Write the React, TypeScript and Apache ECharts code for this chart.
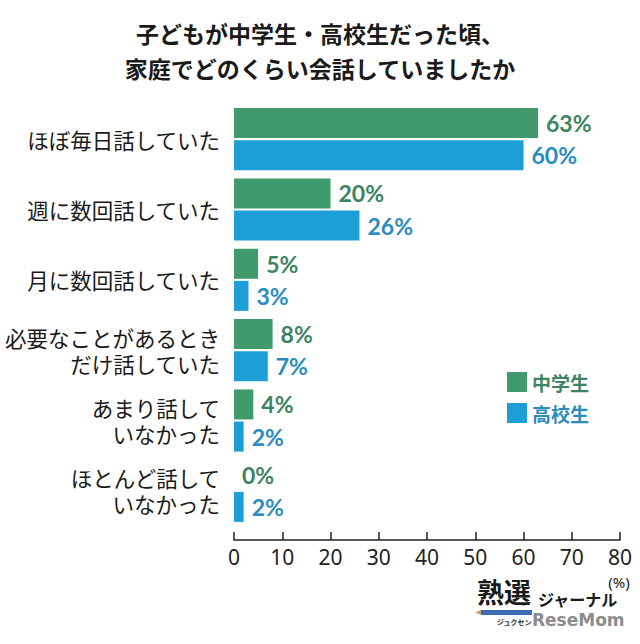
import React, { useEffect, useRef } from "react";
import * as echarts from "echarts";

const categories = [
  "ほぼ毎日話していた",
  "週に数回話していた",
  "月に数回話していた",
  "必要なことがあるとき\nだけ話していた",
  "あまり話して\nいなかった",
  "ほとんど話して\nいなかった",
];
const juniorHigh = [63, 20, 5, 8, 4, 0];
const highSchool = [60, 26, 3, 7, 2, 2];
const seriesNames = ["中学生", "高校生"];
const xTicks = { min: 0, max: 80, interval: 10 };

const GREEN = "#3f9b6b";
const BLUE = "#1e9ed6";
const GREEN_TXT = "#3c8462";
const BLUE_TXT = "#2b8cc0";
const JP = '"Noto Sans CJK JP", "Noto Sans", sans-serif';

export default function App() {
  const ref = useRef<HTMLDivElement>(null);
  useEffect(() => {
    document.body.style.margin = "0";
    const chart = echarts.init(ref.current!, null, { renderer: "svg" });
    const valueLabel = (color: string) => ({
      show: true,
      position: "right",
      distance: 8,
      formatter: "{c}%",
      color,
      fontFamily: "Lato, sans-serif",
      fontWeight: "bold",
      fontSize: 23,
    });
    chart.setOption({
      animation: false,
      backgroundColor: "#ffffff",
      title: {
        text: "子どもが中学生・高校生だった頃、\n家庭でどのくらい会話していましたか",
        left: "center",
        top: 15,
        padding: 0,
        textStyle: {
          fontFamily: JP,
          fontSize: 23,
          fontWeight: "bold",
          color: "#1a1a1a",
          lineHeight: 35,
        },
      },
      legend: {
        orient: "vertical",
        left: 502,
        top: 367,
        itemWidth: 20,
        itemHeight: 20,
        itemGap: 11,
        icon: "rect",
        data: [
          { name: seriesNames[0], textStyle: { color: GREEN_TXT } },
          { name: seriesNames[1], textStyle: { color: BLUE_TXT } },
        ],
        textStyle: { fontFamily: JP, fontSize: 19, fontWeight: "bold" },
      },
      grid: { left: 234, right: 20, top: 104, bottom: 118, containLabel: false },
      xAxis: {
        type: "value",
        min: xTicks.min,
        max: xTicks.max,
        interval: xTicks.interval,
        offset: 14,
        axisLine: { show: true, lineStyle: { color: "#222", width: 1.5 } },
        axisTick: { show: true, inside: true, length: 8, lineStyle: { color: "#222", width: 1.5 } },
        splitLine: { show: false },
        axisLabel: { fontFamily: '"Noto Sans", sans-serif', fontSize: 21, color: "#222", margin: 6 },
      },
      yAxis: {
        type: "category",
        inverse: true,
        data: categories,
        axisLine: { show: false },
        axisTick: { show: false },
        axisLabel: {
          fontFamily: JP,
          fontSize: 21.5,
          color: "#1a1a1a",
          margin: 14,
          lineHeight: 26,
          align: "right",
        },
      },
      series: [
        {
          name: seriesNames[0],
          type: "bar",
          data: juniorHigh,
          barWidth: 30,
          barGap: "7%",
          itemStyle: { color: GREEN },
          label: valueLabel(GREEN_TXT),
        },
        {
          name: seriesNames[1],
          type: "bar",
          data: highSchool,
          barWidth: 30,
          itemStyle: { color: BLUE },
          label: valueLabel(BLUE_TXT),
        },
      ],
      graphic: [
        {
          type: "text",
          x: 619,
          y: 582,
          style: {
            text: "(%)",
            fontFamily: '"Noto Sans", sans-serif',
            fontSize: 15,
            fill: "#222",
            align: "center",
            verticalAlign: "middle",
          },
        },
        {
          type: "text",
          x: 477,
          y: 578,
          style: { text: "熟選", fontFamily: JP, fontSize: 27, fontWeight: "bold", fill: "#1a1a1a" },
        },
        {
          type: "text",
          x: 538,
          y: 591,
          style: { text: "ジャーナル", fontFamily: JP, fontSize: 16, fontWeight: "bold", fill: "#1a1a1a" },
        },
        { type: "rect", shape: { x: 481, y: 610, width: 51, height: 5 }, style: { fill: "#3c6db3" } },
        { type: "polygon", shape: { points: [[475, 612.5], [481, 610], [481, 615]] }, style: { fill: "#c9a36a" } },
        {
          type: "text",
          x: 497,
          y: 618,
          style: { text: "ジュクセン", fontFamily: JP, fontSize: 7, fontWeight: "bold", fill: "#333" },
        },
        {
          type: "text",
          x: 532,
          y: 611,
          style: {
            text: "ReseMom",
            fontFamily: '"DejaVu Sans", sans-serif',
            fontSize: 17,
            fontWeight: "bold",
            fill: "#8c8c8c",
          },
        },
      ],
    });
    return () => chart.dispose();
  }, []);
  return <div ref={ref} style={{ width: 640, height: 644 }} />;
}
